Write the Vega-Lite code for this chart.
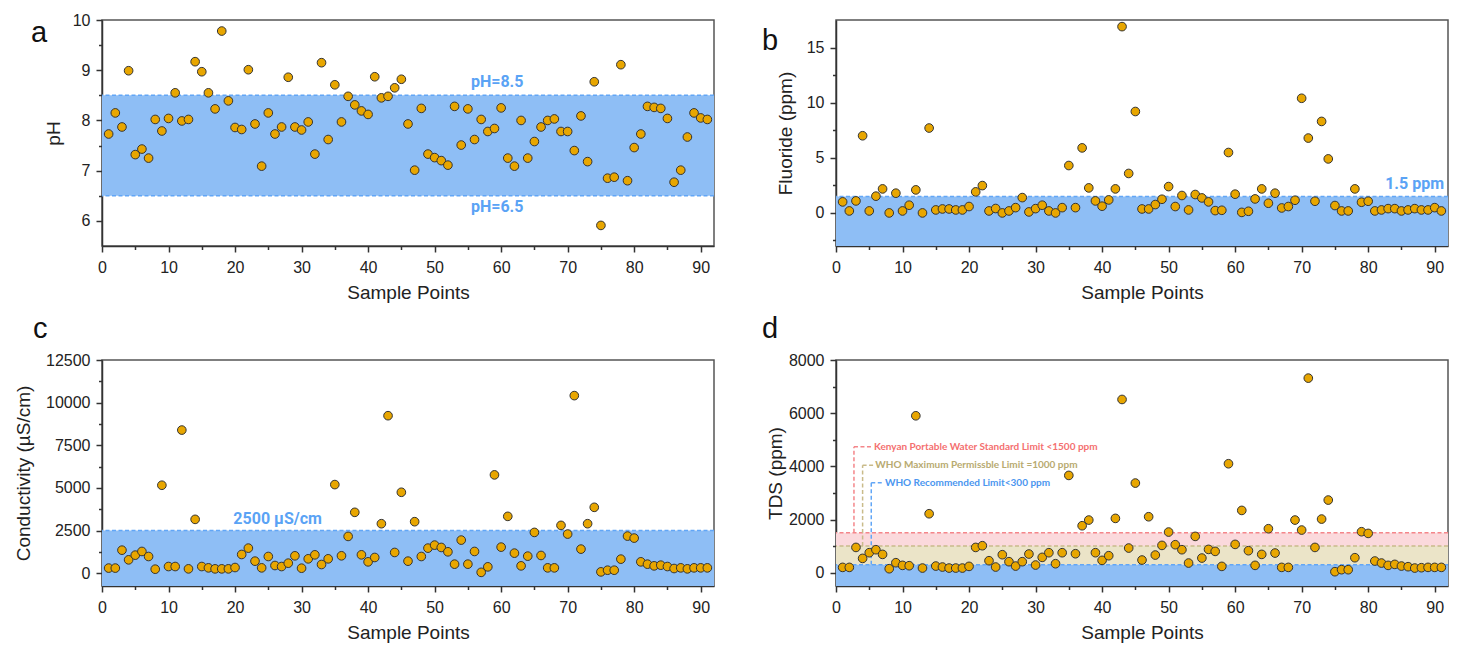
{
  "$schema": "https://vega.github.io/schema/vega-lite/v6.json",
  "background": "white",
  "padding": {"left": 13, "top": 11, "right": 5, "bottom": 5},
  "datasets": {
    "samples": [
      {"i":1,"ph":7.73,"fl":1.0,"ec":300,"tds":200},
      {"i":2,"ph":8.15,"fl":0.18,"ec":300,"tds":200},
      {"i":3,"ph":7.87,"fl":1.09,"ec":1350,"tds":951},
      {"i":4,"ph":8.99,"fl":7.0,"ec":784,"tds":538},
      {"i":5,"ph":7.32,"fl":0.18,"ec":1059,"tds":752},
      {"i":6,"ph":7.43,"fl":1.52,"ec":1275,"tds":865},
      {"i":7,"ph":7.25,"fl":2.18,"ec":980,"tds":689},
      {"i":8,"ph":8.02,"fl":0.0,"ec":235,"tds":150},
      {"i":9,"ph":7.79,"fl":1.79,"ec":5157,"tds":376},
      {"i":10,"ph":8.04,"fl":0.18,"ec":392,"tds":276},
      {"i":11,"ph":8.55,"fl":0.7,"ec":392,"tds":263},
      {"i":12,"ph":7.99,"fl":2.09,"ec":8392,"tds":5902},
      {"i":13,"ph":8.02,"fl":0.0,"ec":255,"tds":175},
      {"i":14,"ph":9.17,"fl":7.7,"ec":3157,"tds":2218},
      {"i":15,"ph":8.97,"fl":0.27,"ec":392,"tds":250},
      {"i":16,"ph":8.55,"fl":0.36,"ec":314,"tds":213},
      {"i":17,"ph":8.23,"fl":0.36,"ec":255,"tds":175},
      {"i":18,"ph":9.78,"fl":0.27,"ec":255,"tds":175},
      {"i":19,"ph":8.39,"fl":0.27,"ec":255,"tds":175},
      {"i":20,"ph":7.86,"fl":0.58,"ec":333,"tds":238},
      {"i":21,"ph":7.82,"fl":1.91,"ec":1098,"tds":951},
      {"i":22,"ph":9.01,"fl":2.48,"ec":1470,"tds":1015},
      {"i":23,"ph":7.93,"fl":0.18,"ec":706,"tds":451},
      {"i":24,"ph":7.09,"fl":0.4,"ec":314,"tds":213},
      {"i":25,"ph":8.15,"fl":0.0,"ec":980,"tds":677},
      {"i":26,"ph":7.73,"fl":0.18,"ec":451,"tds":414},
      {"i":27,"ph":7.87,"fl":0.48,"ec":392,"tds":250},
      {"i":28,"ph":8.86,"fl":1.39,"ec":588,"tds":414},
      {"i":29,"ph":7.87,"fl":0.09,"ec":1020,"tds":702},
      {"i":30,"ph":7.81,"fl":0.39,"ec":294,"tds":288},
      {"i":31,"ph":7.97,"fl":0.7,"ec":843,"tds":577},
      {"i":32,"ph":7.33,"fl":0.18,"ec":1078,"tds":752},
      {"i":33,"ph":9.15,"fl":0.0,"ec":510,"tds":338},
      {"i":34,"ph":7.62,"fl":0.48,"ec":843,"tds":752},
      {"i":35,"ph":8.71,"fl":4.3,"ec":5196,"tds":3659},
      {"i":36,"ph":7.97,"fl":0.48,"ec":1020,"tds":714},
      {"i":37,"ph":8.48,"fl":5.9,"ec":2157,"tds":1767},
      {"i":38,"ph":8.31,"fl":2.27,"ec":3569,"tds":1980},
      {"i":39,"ph":8.19,"fl":1.09,"ec":1078,"tds":752},
      {"i":40,"ph":8.12,"fl":0.61,"ec":667,"tds":464},
      {"i":41,"ph":8.87,"fl":1.18,"ec":922,"tds":639},
      {"i":42,"ph":8.45,"fl":2.18,"ec":2902,"tds":2043},
      {"i":43,"ph":8.48,"fl":16.9,"ec":9235,"tds":6516},
      {"i":44,"ph":8.65,"fl":3.58,"ec":1216,"tds":927},
      {"i":45,"ph":8.82,"fl":9.2,"ec":4745,"tds":3371},
      {"i":46,"ph":7.93,"fl":0.36,"ec":706,"tds":476},
      {"i":47,"ph":7.01,"fl":0.36,"ec":3020,"tds":2105},
      {"i":48,"ph":8.24,"fl":0.76,"ec":980,"tds":664},
      {"i":49,"ph":7.33,"fl":1.24,"ec":1470,"tds":1027},
      {"i":50,"ph":7.26,"fl":2.39,"ec":1647,"tds":1529},
      {"i":51,"ph":7.2,"fl":0.58,"ec":1510,"tds":1053},
      {"i":52,"ph":7.11,"fl":1.58,"ec":1255,"tds":865},
      {"i":53,"ph":8.28,"fl":0.27,"ec":530,"tds":363},
      {"i":54,"ph":7.51,"fl":1.67,"ec":1941,"tds":1366},
      {"i":55,"ph":8.23,"fl":1.36,"ec":530,"tds":551},
      {"i":56,"ph":7.62,"fl":1.0,"ec":1275,"tds":877},
      {"i":57,"ph":8.02,"fl":0.21,"ec":50,"tds":802},
      {"i":58,"ph":7.78,"fl":0.24,"ec":373,"tds":238},
      {"i":59,"ph":7.84,"fl":5.48,"ec":5765,"tds":4098},
      {"i":60,"ph":8.25,"fl":1.7,"ec":1529,"tds":1065},
      {"i":61,"ph":7.25,"fl":0.05,"ec":3333,"tds":2343},
      {"i":62,"ph":7.09,"fl":0.15,"ec":1176,"tds":827},
      {"i":63,"ph":8.0,"fl":1.27,"ec":431,"tds":276},
      {"i":64,"ph":7.25,"fl":2.18,"ec":1000,"tds":689},
      {"i":65,"ph":7.58,"fl":0.88,"ec":2392,"tds":1654},
      {"i":66,"ph":7.87,"fl":1.79,"ec":1040,"tds":739},
      {"i":67,"ph":8.0,"fl":0.45,"ec":314,"tds":200},
      {"i":68,"ph":8.03,"fl":0.58,"ec":314,"tds":200},
      {"i":69,"ph":7.78,"fl":1.15,"ec":2804,"tds":1980},
      {"i":70,"ph":7.78,"fl":10.4,"ec":2294,"tds":1604},
      {"i":71,"ph":7.4,"fl":6.79,"ec":10412,"tds":7318},
      {"i":72,"ph":8.09,"fl":1.06,"ec":1412,"tds":951},
      {"i":73,"ph":7.18,"fl":8.3,"ec":2902,"tds":2017},
      {"i":74,"ph":8.77,"fl":4.9,"ec":3863,"tds":2732},
      {"i":75,"ph":5.91,"fl":0.67,"ec":78,"tds":38},
      {"i":76,"ph":6.85,"fl":0.18,"ec":176,"tds":113},
      {"i":77,"ph":6.87,"fl":0.18,"ec":176,"tds":113},
      {"i":78,"ph":9.11,"fl":2.18,"ec":824,"tds":564},
      {"i":79,"ph":6.8,"fl":0.97,"ec":2176,"tds":1541},
      {"i":80,"ph":7.46,"fl":1.06,"ec":2059,"tds":1478},
      {"i":81,"ph":7.73,"fl":0.18,"ec":667,"tds":439},
      {"i":82,"ph":8.28,"fl":0.27,"ec":530,"tds":363},
      {"i":83,"ph":8.26,"fl":0.39,"ec":431,"tds":276},
      {"i":84,"ph":8.24,"fl":0.39,"ec":471,"tds":313},
      {"i":85,"ph":8.04,"fl":0.18,"ec":392,"tds":250},
      {"i":86,"ph":6.77,"fl":0.27,"ec":275,"tds":226},
      {"i":87,"ph":7.01,"fl":0.39,"ec":314,"tds":175},
      {"i":88,"ph":7.67,"fl":0.27,"ec":255,"tds":188},
      {"i":89,"ph":8.15,"fl":0.27,"ec":314,"tds":200},
      {"i":90,"ph":8.05,"fl":0.48,"ec":314,"tds":200},
      {"i":91,"ph":8.02,"fl":0.18,"ec":314,"tds":200}
    ],
    "phBand": [{"lo": 6.5, "hi": 8.5}],
    "phLim": [
      {"v": 8.5, "label": "pH=8.5", "pos": "above", "tx": 59.4},
      {"v": 6.5, "label": "pH=6.5", "pos": "below", "tx": 59.4}
    ],
    "flLim": [{"lo": -3, "v": 1.5, "label": "1.5 ppm", "tx": 91.4}],
    "ecLim": [{"lo": -750, "v": 2500, "label": "2500 µS/cm", "tx": 26.4}],
    "tdsLim": [
      {"std": "Kenyan", "lo": 1000, "v": 1500, "label": "Kenyan Portable Water Standard Limit <1500 ppm", "lx": 2.7, "lx2": 5.4, "tx": 5.7, "ly": 4737},
      {"std": "WHOmax", "lo": 300, "v": 1000, "label": "WHO Maximum Permissble Limit =1000 ppm", "lx": 4.0, "lx2": 5.8, "tx": 5.9, "ly": 4041},
      {"std": "WHOrec", "lo": -500, "v": 300, "label": "WHO Recommended Limit<300 ppm", "lx": 5.3, "lx2": 7.1, "tx": 7.35, "ly": 3383}
    ]
  },
  "config": {
    "font": "Liberation Sans",
    "view": {"stroke": "#555555", "strokeWidth": 1.5},
    "axis": {
      "domainColor": "#333333", "domainWidth": 1.5,
      "tickColor": "#333333", "tickWidth": 1.5, "tickSize": 6,
      "labelFontSize": 16, "labelColor": "#222222", "labelFont": "Liberation Sans",
      "titleFontSize": 19, "titleFontWeight": "normal", "titleColor": "#222222", "titleFont": "Liberation Sans",
      "grid": false
    },
    "title": {"fontSize": 29, "fontWeight": "normal", "font": "Liberation Sans", "color": "#111111", "anchor": "start", "frame": "group", "baseline": "alphabetic"}
  },
  "columns": 2,
  "spacing": {"row": 11, "column": 45},
  "concat": [
    {
      "width": 612, "height": 226,
      "title": {"text": "a", "dx": -71, "dy": 36, "offset": 0},
      "resolve": {"axis": {"x": "independent", "y": "independent"}},
      "layer": [
        {"data": {"name": "phBand"}, "mark": {"type": "rect", "color": "#8ebef5"},
         "encoding": {"y": {"field": "lo", "type": "quantitative", "axis": null}, "y2": {"field": "hi"}}},
        {"data": {"name": "phLim"}, "mark": {"type": "rule", "color": "#62a6f6", "strokeDash": [4, 2.5], "strokeWidth": 1.5},
         "encoding": {"y": {"field": "v", "type": "quantitative", "axis": null}}},
        {"data": {"name": "phLim"}, "transform": [{"filter": "datum.pos === 'above'"}],
         "mark": {"type": "text", "font": "Roboto", "fontWeight": "bold", "fontSize": 16, "color": "#5aa3f5", "baseline": "alphabetic", "dy": -8},
         "encoding": {"x": {"field": "tx", "type": "quantitative",
                            "axis": {"orient": "bottom", "values": [5,15,25,35,45,55,65,75,85], "labels": false, "domain": false, "tickSize": 3.5, "title": null}},
                      "y": {"field": "v", "type": "quantitative",
                            "axis": {"orient": "left", "values": [6.5,7.5,8.5,9.5], "labels": false, "domain": false, "tickSize": 3.5, "title": null}},
                      "text": {"field": "label"}}},
        {"data": {"name": "phLim"}, "transform": [{"filter": "datum.pos === 'below'"}],
         "mark": {"type": "text", "font": "Roboto", "fontWeight": "bold", "fontSize": 16, "color": "#5aa3f5", "baseline": "top", "dy": 3},
         "encoding": {"x": {"field": "tx", "type": "quantitative", "axis": null}, "y": {"field": "v", "type": "quantitative", "axis": null}, "text": {"field": "label"}}},
        {"data": {"name": "samples"},
         "mark": {"type": "circle", "fill": "#e8a600", "stroke": "#333333", "strokeWidth": 1, "size": 75, "opacity": 1},
         "encoding": {
           "x": {"field": "i", "type": "quantitative", "scale": {"domain": [0, 92], "nice": false, "zero": false},
                 "axis": {"orient": "bottom", "title": "Sample Points", "values": [0,10,20,30,40,50,60,70,80,90],
                          "labelFlush": false, "labelPadding": 7, "titlePadding": 8}},
           "y": {"field": "ph", "type": "quantitative", "scale": {"domain": [5.5, 10], "nice": false, "zero": false},
                 "axis": {"orient": "left", "title": "pH", "values": [6,7,8,9,10],
                          "labelPadding": 6, "titlePadding": 9}}
         }}
      ]
    },
    {
      "width": 612, "height": 226,
      "title": {"text": "b", "dx": -74, "dy": 36, "offset": 0},
      "resolve": {"axis": {"x": "independent", "y": "independent"}},
      "layer": [
        {"data": {"name": "flLim"}, "mark": {"type": "rect", "color": "#8ebef5"},
         "encoding": {"y": {"field": "lo", "type": "quantitative", "axis": null}, "y2": {"field": "v"}}},
        {"data": {"name": "flLim"}, "mark": {"type": "rule", "color": "#62a6f6", "strokeDash": [4, 2.5], "strokeWidth": 1.5},
         "encoding": {"y": {"field": "v", "type": "quantitative", "axis": null}}},
        {"data": {"name": "flLim"},
         "mark": {"type": "text", "font": "Roboto", "fontWeight": "bold", "fontSize": 16, "color": "#5aa3f5", "baseline": "alphabetic", "align": "right", "dy": -7},
         "encoding": {"x": {"field": "tx", "type": "quantitative",
                            "axis": {"orient": "bottom", "values": [5,15,25,35,45,55,65,75,85], "labels": false, "domain": false, "tickSize": 3.5, "title": null}},
                      "y": {"field": "v", "type": "quantitative",
                            "axis": {"orient": "left", "values": [-2.5,2.5,7.5,12.5], "labels": false, "domain": false, "tickSize": 3.5, "title": null}},
                      "text": {"field": "label"}}},
        {"data": {"name": "samples"},
         "mark": {"type": "circle", "fill": "#e8a600", "stroke": "#333333", "strokeWidth": 1, "size": 75, "opacity": 1},
         "encoding": {
           "x": {"field": "i", "type": "quantitative", "scale": {"domain": [0, 92], "nice": false, "zero": false},
                 "axis": {"orient": "bottom", "title": "Sample Points", "values": [0,10,20,30,40,50,60,70,80,90],
                          "labelFlush": false, "labelPadding": 7, "titlePadding": 8}},
           "y": {"field": "fl", "type": "quantitative", "scale": {"domain": [-3, 17.5], "nice": false, "zero": false},
                 "axis": {"orient": "left", "title": "Fluoride (ppm)", "values": [0,5,10,15],
                          "labelPadding": 6, "titlePadding": 11}}
         }}
      ]
    },
    {
      "width": 612, "height": 226,
      "title": {"text": "c", "dx": -69, "dy": 0, "offset": 8},
      "resolve": {"axis": {"x": "independent", "y": "independent"}},
      "layer": [
        {"data": {"name": "ecLim"}, "mark": {"type": "rect", "color": "#8ebef5"},
         "encoding": {"y": {"field": "lo", "type": "quantitative", "axis": null}, "y2": {"field": "v"}}},
        {"data": {"name": "ecLim"}, "mark": {"type": "rule", "color": "#62a6f6", "strokeDash": [4, 2.5], "strokeWidth": 1.5},
         "encoding": {"y": {"field": "v", "type": "quantitative", "axis": null}}},
        {"data": {"name": "ecLim"},
         "mark": {"type": "text", "font": "Roboto", "fontWeight": "bold", "fontSize": 16, "color": "#5aa3f5", "baseline": "alphabetic", "align": "center", "dy": -7},
         "encoding": {"x": {"field": "tx", "type": "quantitative",
                            "axis": {"orient": "bottom", "values": [5,15,25,35,45,55,65,75,85], "labels": false, "domain": false, "tickSize": 3.5, "title": null}},
                      "y": {"field": "v", "type": "quantitative",
                            "axis": {"orient": "left", "values": [1250,3750,6250,8750,11250], "labels": false, "domain": false, "tickSize": 3.5, "title": null}},
                      "text": {"field": "label"}}},
        {"data": {"name": "samples"},
         "mark": {"type": "circle", "fill": "#e8a600", "stroke": "#333333", "strokeWidth": 1, "size": 75, "opacity": 1},
         "encoding": {
           "x": {"field": "i", "type": "quantitative", "scale": {"domain": [0, 92], "nice": false, "zero": false},
                 "axis": {"orient": "bottom", "title": "Sample Points", "values": [0,10,20,30,40,50,60,70,80,90],
                          "labelFlush": false, "labelPadding": 7, "titlePadding": 8}},
           "y": {"field": "ec", "type": "quantitative", "scale": {"domain": [-750, 12500], "nice": false, "zero": false},
                 "axis": {"orient": "left", "title": "Conductivity (µS/cm)", "values": [0,2500,5000,7500,10000,12500],
                          "format": "d", "labelPadding": 6, "titlePadding": 12}}
         }}
      ]
    },
    {
      "width": 612, "height": 226,
      "title": {"text": "d", "dx": -74, "dy": 0, "offset": 8},
      "resolve": {"axis": {"x": "independent", "y": "independent"}},
      "layer": [
        {"data": {"name": "tdsLim"}, "mark": {"type": "rect"},
         "encoding": {"y": {"field": "lo", "type": "quantitative", "axis": null}, "y2": {"field": "v"},
                      "fill": {"field": "std", "type": "nominal", "legend": null,
                               "scale": {"domain": ["Kenyan", "WHOmax", "WHOrec"], "range": ["#fbd9dc", "#ebe4c8", "#8ebef5"]}}}},
        {"data": {"name": "tdsLim"}, "mark": {"type": "rule", "strokeDash": [4, 2.5], "strokeWidth": 1.5},
         "encoding": {"y": {"field": "v", "type": "quantitative", "axis": null},
                      "stroke": {"field": "std", "type": "nominal", "legend": null,
                                 "scale": {"domain": ["Kenyan", "WHOmax", "WHOrec"], "range": ["#f4868a", "#c9bb8a", "#62a6f6"]}}}},
        {"data": {"name": "tdsLim"}, "mark": {"type": "rule", "strokeDash": [4, 2.5], "strokeWidth": 1.5},
         "encoding": {"x": {"field": "lx", "type": "quantitative", "axis": null},
                      "y": {"field": "v", "type": "quantitative", "axis": null}, "y2": {"field": "ly"},
                      "stroke": {"field": "std", "type": "nominal", "legend": null}}},
        {"data": {"name": "tdsLim"}, "mark": {"type": "rule", "strokeDash": [4, 2.5], "strokeWidth": 1.5},
         "encoding": {"x": {"field": "lx", "type": "quantitative", "axis": null}, "x2": {"field": "lx2"},
                      "y": {"field": "ly", "type": "quantitative", "axis": null},
                      "stroke": {"field": "std", "type": "nominal", "legend": null}}},
        {"data": {"name": "tdsLim"},
         "mark": {"type": "text", "font": "Lato", "fontWeight": "bold", "fontSize": 10, "align": "left", "baseline": "middle"},
         "encoding": {"x": {"field": "tx", "type": "quantitative",
                            "axis": {"orient": "bottom", "values": [5,15,25,35,45,55,65,75,85], "labels": false, "domain": false, "tickSize": 3.5, "title": null}},
                      "y": {"field": "ly", "type": "quantitative",
                            "axis": {"orient": "left", "values": [1000,3000,5000,7000], "labels": false, "domain": false, "tickSize": 3.5, "title": null}},
                      "text": {"field": "label"},
                      "color": {"field": "std", "type": "nominal", "legend": null,
                                "scale": {"domain": ["Kenyan", "WHOmax", "WHOrec"], "range": ["#f47070", "#b8aa70", "#4b96ef"]}}}},
        {"data": {"name": "samples"},
         "mark": {"type": "circle", "fill": "#e8a600", "stroke": "#333333", "strokeWidth": 1, "size": 75, "opacity": 1},
         "encoding": {
           "x": {"field": "i", "type": "quantitative", "scale": {"domain": [0, 92], "nice": false, "zero": false},
                 "axis": {"orient": "bottom", "title": "Sample Points", "values": [0,10,20,30,40,50,60,70,80,90],
                          "labelFlush": false, "labelPadding": 7, "titlePadding": 8}},
           "y": {"field": "tds", "type": "quantitative", "scale": {"domain": [-500, 8000], "nice": false, "zero": false},
                 "axis": {"orient": "left", "title": "TDS (ppm)", "values": [0,2000,4000,6000,8000],
                          "format": "d", "labelPadding": 6, "titlePadding": 3}}
         }}
      ]
    }
  ]
}
